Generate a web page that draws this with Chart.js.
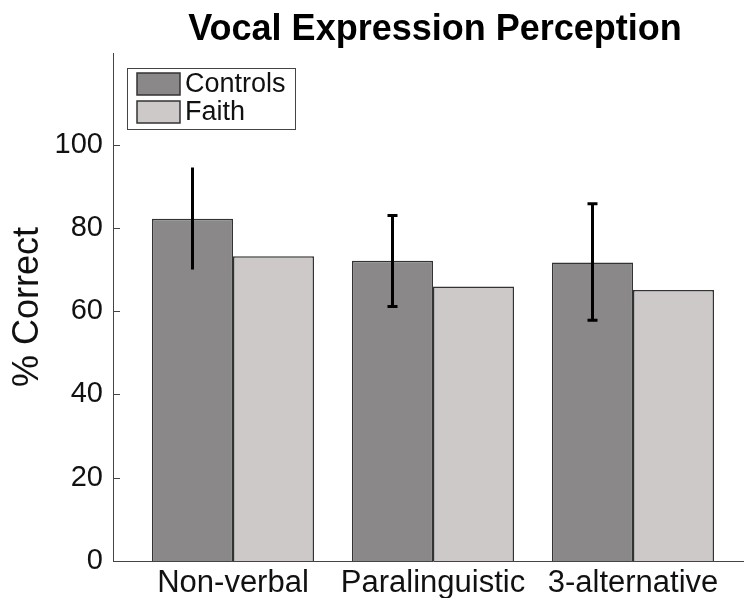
<!DOCTYPE html>
<html>
<head>
<meta charset="utf-8">
<script src="https://cdn.jsdelivr.net/npm/chart.js@4/dist/chart.umd.min.js"></script>
<style>
html, body { margin: 0; padding: 0; background: #fff; overflow: hidden; }
#wrap { width: 770px; height: 598px; }
</style>
</head>
<body>
<div id="wrap"><canvas id="myChart" width="770" height="598"></canvas></div>
<script>
const CATEGORIES = ['Non-verbal', 'Paralinguistic', '3-alternative'];
const CONTROLS = [82.2, 72.1, 71.7];
const FAITH = [73.2, 65.9, 65.1];
const CONTROLS_ERR_LOW = [70.0, 61.1, 57.8];
const CONTROLS_ERR_HIGH = [94.5, 83.0, 85.8];
const Y_TICKS = [0, 20, 40, 60, 80, 100];
const SERIES_NAMES = ['Controls', 'Faith'];

const FONT = '"Liberation Sans", Arial, Helvetica, sans-serif';
const COLORS = ['#8a8888', '#cdc9c9'];
const EDGE = '#333333';

// title, legend box, inward ticks and error bars
const extras = {
  id: 'extras',
  afterDatasetsDraw(chart) {
    const ctx = chart.ctx;
    const area = chart.chartArea;
    const y = chart.scales.y;
    ctx.save();

    // error bars on the Controls bars
    const meta = chart.getDatasetMeta(0);
    ctx.strokeStyle = '#000';
    ctx.lineWidth = 3;
    meta.data.forEach((bar, i) => {
      const yt = y.getPixelForValue(CONTROLS_ERR_HIGH[i]);
      const yb = y.getPixelForValue(CONTROLS_ERR_LOW[i]);
      ctx.beginPath();
      ctx.moveTo(bar.x, yt); ctx.lineTo(bar.x, yb);
      if (i > 0) {
        ctx.moveTo(bar.x - 5, yt); ctx.lineTo(bar.x + 5, yt);
        ctx.moveTo(bar.x - 5, yb); ctx.lineTo(bar.x + 5, yb);
      }
      ctx.stroke();
    });

    // inward y ticks
    ctx.strokeStyle = '#444';
    ctx.lineWidth = 1;
    Y_TICKS.forEach(v => {
      const py = Math.round(y.getPixelForValue(v)) + 0.5;
      ctx.beginPath();
      ctx.moveTo(area.left, py); ctx.lineTo(area.left + 7, py);
      ctx.stroke();
    });

    // legend
    const lx = area.left + 14, ly = area.top + 15;
    ctx.fillStyle = '#fff';
    ctx.fillRect(lx, ly, 168, 61);
    ctx.strokeStyle = '#444';
    ctx.strokeRect(lx + 0.5, ly + 0.5, 168, 61);
    ctx.font = '27px ' + FONT;
    ctx.textBaseline = 'middle';
    SERIES_NAMES.forEach((name, i) => {
      const sy = ly + 5 + i * 28;
      ctx.fillStyle = COLORS[i];
      ctx.fillRect(lx + 10, sy, 43, 22);
      ctx.strokeStyle = EDGE;
      ctx.lineWidth = 1.5;
      ctx.strokeRect(lx + 10, sy, 43, 22);
      ctx.fillStyle = '#111';
      ctx.fillText(name, lx + 58, sy + 12);
    });

    // title
    ctx.font = 'bold 36px ' + FONT;
    ctx.textAlign = 'center';
    ctx.textBaseline = 'alphabetic';
    ctx.fillStyle = '#000';
    ctx.fillText('Vocal Expression Perception', (area.left + area.right) / 2 + 2, 40);
    ctx.restore();
  }
};

new Chart(document.getElementById('myChart'), {
  type: 'bar',
  data: {
    datasets: [
      {
        label: SERIES_NAMES[0],
        data: CONTROLS.map((v, i) => ({ x: i + 1, y: v })),
        backgroundColor: COLORS[0],
        borderColor: EDGE,
        borderWidth: 1.5
      },
      {
        label: SERIES_NAMES[1],
        data: FAITH.map((v, i) => ({ x: i + 1, y: v })),
        backgroundColor: COLORS[1],
        borderColor: EDGE,
        borderWidth: 1.5
      }
    ]
  },
  plugins: [extras],
  options: {
    responsive: false,
    animation: false,
    layout: { padding: { top: 53, right: 17, left: 0, bottom: 0 } },
    categoryPercentage: 0.81,
    barPercentage: 1.0,
    plugins: {
      legend: { display: false },
      title: { display: false },
      tooltip: { enabled: false }
    },
    scales: {
      x: {
        type: 'linear',
        min: 0.4,
        max: 3.6,
        offset: false,
        grid: { display: false, drawTicks: false },
        border: { display: true, color: '#444', width: 1 },
        afterBuildTicks: s => { s.ticks = CATEGORIES.map((c, i) => ({ value: i + 1 })); },
        afterFit: s => { s.height = 37; },
        ticks: {
          autoSkip: false,
          maxRotation: 0,
          padding: 4,
          color: '#111',
          font: { family: FONT, size: 31 },
          callback: v => CATEGORIES[v - 1]
        }
      },
      y: {
        min: 0,
        max: 122,
        grid: { display: false, drawTicks: false },
        border: { display: true, color: '#444', width: 1 },
        afterBuildTicks: s => { s.ticks = Y_TICKS.map(v => ({ value: v })); },
        afterFit: s => { s.width = 113; },
        ticks: {
          padding: 10,
          color: '#111',
          font: { family: FONT, size: 29 }
        },
        title: {
          display: true,
          text: '% Correct',
          color: '#111',
          padding: { top: 6, bottom: 0 },
          font: { family: FONT, size: 36 }
        }
      }
    }
  }
});
</script>
</body>
</html>
